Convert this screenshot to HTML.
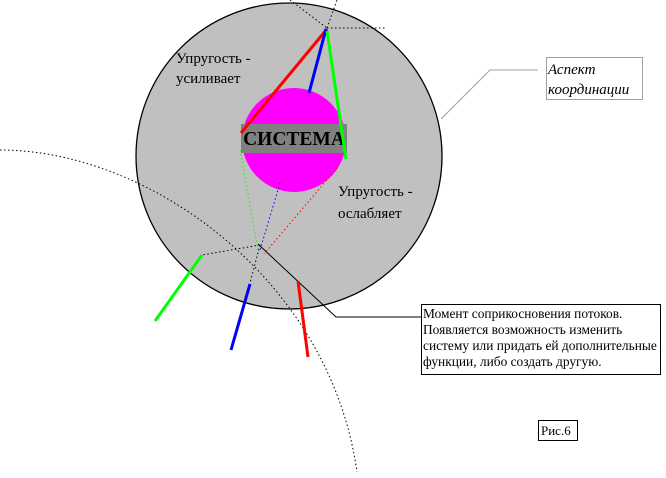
<!DOCTYPE html>
<html><head><meta charset="utf-8"><style>
html,body{margin:0;padding:0;background:#fff;}
svg{display:block;}
text{font-family:"Liberation Serif","DejaVu Serif",serif;}
</style></head><body>
<svg width="666" height="478" viewBox="0 0 666 478" xmlns="http://www.w3.org/2000/svg">
<circle cx="289" cy="156" r="153" fill="#c0c0c0" stroke="#000" stroke-width="1.3"/>
<circle cx="294" cy="140" r="52" fill="#ff00ff"/>
<rect x="241" y="124" width="106" height="29" fill="#808080"/>
<text x="294" y="145" text-anchor="middle" font-size="19.5" font-weight="bold">СИСТЕМА</text>
<g fill="none" stroke="#000" stroke-width="1" stroke-dasharray="1.5,2.5">
<path d="M0,150 C150,150 330,280 357,472"/>
<line x1="290" y1="0" x2="327" y2="28"/>
<line x1="327" y1="28" x2="385" y2="28"/>
<line x1="327" y1="28" x2="337" y2="0"/>
<line x1="260" y1="245" x2="202" y2="255"/>
<line x1="260" y1="245" x2="250" y2="283"/>
</g>
<polyline points="258,244 336,317 421,317" fill="none" stroke="#000" stroke-width="1"/>
<g fill="none" stroke-width="1" stroke-dasharray="1.5,2.5">
<line x1="240" y1="150" x2="258" y2="250" stroke="#00ff00"/>
<line x1="280" y1="183" x2="260" y2="250" stroke="#0000ff"/>
<line x1="337" y1="168" x2="264" y2="254" stroke="#ff0000"/>
</g>
<g stroke-width="3" stroke-linecap="butt">
<line x1="327" y1="29" x2="241" y2="133" stroke="#ff0000"/>
<line x1="326" y1="29" x2="309" y2="93" stroke="#0000ff"/>
<line x1="327" y1="31" x2="346" y2="159" stroke="#00ff00"/>
<line x1="202" y1="255" x2="155" y2="321" stroke="#00ff00"/>
<line x1="250" y1="284" x2="231" y2="350" stroke="#0000ff"/>
<line x1="298" y1="281" x2="308" y2="357" stroke="#ff0000"/>
</g>
<text x="176" y="63" font-size="15">Упругость -</text>
<text x="176" y="83" font-size="15">усиливает</text>
<text x="338" y="196" font-size="15">Упругость -</text>
<text x="338" y="218" font-size="15">ослабляет</text>
<polyline points="441,119 490,70 538,70" fill="none" stroke="#a0a0a0" stroke-width="1"/>
<rect x="546.5" y="57.5" width="96" height="42" fill="#fff" stroke="#a0a0a0"/>
<text x="548" y="74" font-size="15" font-style="italic">Аспект</text>
<text x="548" y="94" font-size="15" font-style="italic">координации</text>
<rect x="421.5" y="304.5" width="239" height="70" fill="#fff" stroke="#000"/>
<g font-size="13.4">
<text x="423" y="318">Момент соприкосновения потоков.</text>
<text x="423" y="334">Появляется возможность изменить</text>
<text x="423" y="350">систему или придать ей дополнительные</text>
<text x="423" y="366">функции, либо создать другую.</text>
</g>
<rect x="538.5" y="420.5" width="39" height="20" fill="#fff" stroke="#000"/>
<text x="541" y="435" font-size="13">Рис.6</text>
</svg>
</body></html>
